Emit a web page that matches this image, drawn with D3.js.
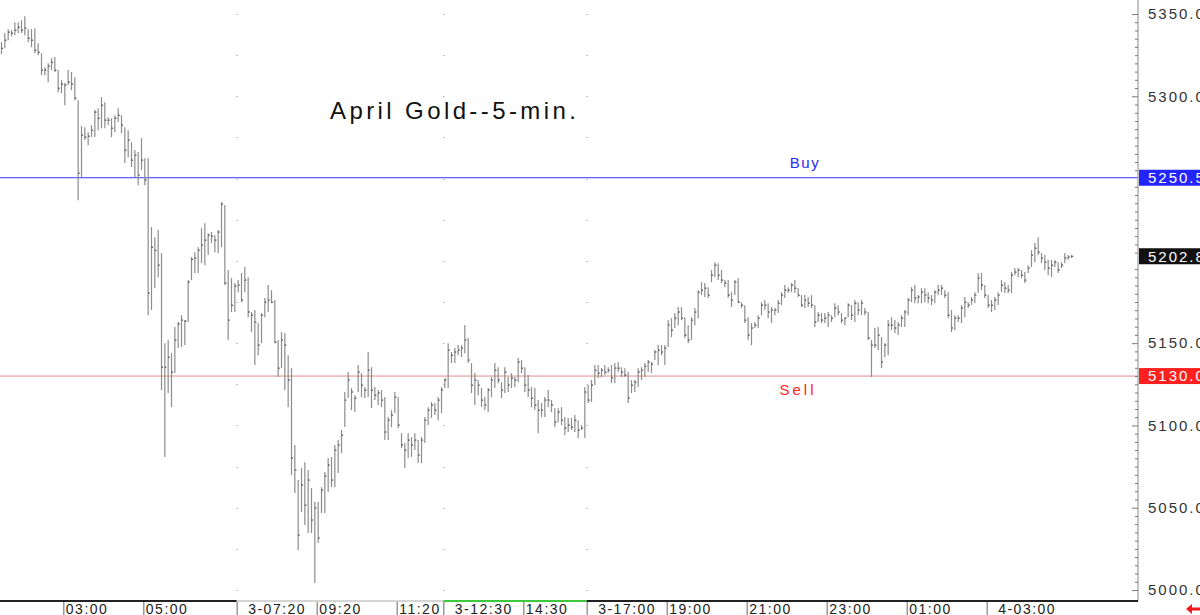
<!DOCTYPE html>
<html><head><meta charset="utf-8">
<script src="https://cdn.jsdelivr.net/npm/d3@7"></script>
<style>html,body{margin:0;padding:0;background:#fff;overflow:hidden}</style>
</head><body>
<svg id="c" width="1200" height="615"></svg>
<script>
// ---- DATA (April Gold, 5-minute bars) ----
const high = [
5332.9,5338.4,5340.8,5340.2,5345.0,5345.0,5346.2,5348.7,5340.8,5340.8,
5341.4,5332.3,5326.2,5317.7,5320.1,5323.2,5323.8,5315.9,5309.8,5308.0,
5315.9,5314.7,5311.6,5297.6,5281.9,5281.2,5278.2,5282.5,5291.6,5292.8,
5299.5,5296.4,5287.3,5286.7,5288.5,5292.8,5288.5,5281.2,5279.4,5272.1,
5267.3,5266.1,5274.6,5262.4,5262.4,5220.5,5214.4,5218.7,5204.7,5150.0,
5151.9,5144.0,5159.8,5162.8,5167.0,5164.0,5188.3,5202.3,5205.3,5208.3,
5219.9,5222.9,5216.8,5217.5,5215.6,5218.7,5235.7,5233.9,5194.4,5189.5,
5186.5,5188.3,5192.6,5196.2,5190.1,5168.9,5170.1,5162.2,5168.3,5177.4,
5185.3,5182.2,5176.2,5151.9,5156.7,5156.1,5142.7,5134.8,5088.1,5066.8,
5074.1,5077.7,5072.9,5061.9,5053.4,5053.4,5062.5,5071.7,5080.2,5080.8,
5088.1,5091.1,5097.2,5120.3,5132.4,5122.7,5118.4,5136.7,5131.8,5123.3,
5144.6,5135.4,5123.3,5121.5,5121.5,5117.2,5105.1,5109.3,5120.3,5117.2,
5095.3,5089.3,5095.3,5092.9,5095.3,5091.1,5092.9,5105.1,5111.1,5114.2,
5113.6,5117.2,5123.3,5128.8,5150.0,5144.6,5147.0,5148.8,5148.8,5161.0,
5153.1,5137.9,5131.8,5127.6,5122.7,5117.2,5122.7,5129.4,5137.9,5135.4,
5126.3,5135.4,5129.4,5131.8,5129.4,5140.9,5139.7,5135.4,5130.6,5123.3,
5122.7,5115.4,5113.6,5117.2,5121.5,5115.4,5110.5,5110.5,5111.1,5105.1,
5104.5,5104.5,5106.3,5103.2,5100.2,5123.3,5124.5,5127.6,5136.7,5136.7,
5134.8,5136.7,5135.4,5136.7,5137.9,5138.5,5135.4,5134.8,5132.4,5127.6,
5127.6,5134.8,5135.4,5137.9,5139.7,5138.5,5145.8,5148.8,5148.8,5148.8,
5164.0,5165.2,5168.3,5171.9,5171.9,5165.8,5160.9,5165.8,5171.3,5182.2,
5187.1,5186.5,5184.0,5194.4,5199.2,5198.6,5194.4,5188.3,5188.3,5181.0,
5188.3,5189.5,5174.9,5173.1,5165.8,5162.2,5162.8,5167.0,5174.9,5176.2,
5174.3,5171.9,5171.3,5176.2,5181.0,5185.3,5184.0,5186.5,5188.3,5183.4,
5179.2,5179.2,5178.0,5179.2,5173.1,5168.9,5168.3,5168.3,5168.9,5167.0,
5174.3,5173.1,5168.3,5165.8,5174.3,5173.1,5176.2,5174.9,5176.2,5171.3,
5168.9,5151.9,5159.2,5159.8,5153.7,5150.0,5164.0,5165.8,5164.0,5162.8,
5167.0,5170.1,5177.4,5184.0,5185.3,5179.2,5183.4,5183.4,5181.0,5179.2,
5182.2,5185.3,5185.3,5182.2,5181.0,5170.1,5167.0,5167.0,5173.1,5178.0,
5174.9,5178.0,5181.0,5192.6,5192.6,5185.3,5179.2,5176.2,5178.0,5181.0,
5188.3,5187.1,5185.3,5193.2,5195.6,5195.6,5194.4,5193.2,5197.4,5206.5,
5210.8,5214.4,5204.7,5203.5,5200.5,5200.5,5200.5,5199.2,5199.2,5204.7,5203.5,5203.5];
const low = [
5325.6,5329.2,5334.1,5336.5,5337.1,5338.4,5338.4,5337.1,5332.9,5329.8,
5326.2,5325.0,5312.8,5312.8,5308.6,5315.9,5314.7,5302.5,5301.9,5294.6,
5306.8,5303.7,5297.6,5236.9,5250.9,5273.4,5270.3,5275.2,5275.2,5279.4,
5280.6,5280.6,5282.5,5275.2,5278.2,5284.3,5277.6,5259.4,5263.0,5257.0,
5250.9,5246.0,5255.1,5246.0,5167.0,5170.1,5183.4,5190.1,5121.5,5080.8,
5119.7,5111.1,5131.8,5147.0,5147.6,5148.8,5162.8,5188.3,5192.6,5192.6,
5198.6,5197.4,5203.5,5210.8,5205.3,5204.7,5208.3,5185.3,5151.9,5168.9,
5168.9,5181.0,5174.9,5181.0,5165.8,5156.7,5136.7,5142.7,5150.0,5165.8,
5168.9,5174.3,5150.0,5129.4,5134.8,5121.5,5111.1,5069.8,5058.9,5024.3,
5047.4,5039.5,5034.6,5034.6,5004.2,5028.5,5046.8,5046.8,5059.5,5062.5,
5062.5,5071.1,5083.2,5099.0,5116.6,5109.3,5108.1,5120.3,5117.2,5116.6,
5117.2,5110.5,5115.4,5112.4,5111.1,5091.1,5091.1,5099.0,5107.5,5098.4,
5086.2,5074.1,5080.2,5080.8,5085.0,5077.1,5077.1,5089.3,5100.2,5104.5,
5106.3,5103.2,5107.5,5122.7,5122.7,5137.9,5137.9,5142.7,5141.5,5143.9,
5137.9,5119.7,5112.4,5118.4,5111.1,5109.3,5108.1,5117.2,5122.7,5125.7,
5116.6,5119.7,5120.3,5122.7,5123.3,5126.3,5131.8,5120.3,5117.2,5111.1,
5109.3,5095.3,5105.1,5105.1,5111.1,5108.1,5099.0,5102.0,5100.2,5094.1,
5096.0,5097.2,5096.0,5092.3,5097.2,5092.3,5113.6,5114.2,5124.5,5128.8,
5129.4,5130.6,5131.8,5125.7,5125.7,5132.4,5129.4,5129.4,5113.6,5119.7,
5120.3,5123.3,5127.6,5129.4,5132.4,5131.8,5139.7,5136.7,5142.7,5136.7,
5147.6,5153.7,5159.2,5160.9,5164.0,5153.1,5150.0,5151.9,5160.9,5165.2,
5179.2,5178.0,5177.4,5187.1,5190.1,5188.3,5186.5,5184.0,5177.4,5171.9,
5179.2,5174.3,5171.3,5162.2,5151.9,5148.8,5159.2,5159.2,5167.0,5170.1,
5165.2,5162.2,5167.0,5168.3,5173.1,5177.4,5180.4,5181.0,5180.4,5178.0,
5171.9,5171.3,5171.9,5171.3,5159.8,5162.8,5162.2,5162.2,5159.8,5162.8,
5165.8,5167.0,5162.2,5160.9,5165.8,5164.0,5162.8,5167.0,5167.0,5167.0,
5151.9,5129.4,5147.0,5145.8,5134.8,5141.5,5142.7,5157.9,5156.1,5154.9,
5159.8,5159.8,5167.0,5174.9,5174.3,5174.3,5174.3,5174.9,5174.3,5173.1,
5174.3,5179.2,5179.2,5177.4,5165.2,5156.7,5157.9,5162.8,5162.2,5165.8,
5171.3,5173.1,5174.3,5180.4,5182.2,5177.4,5171.3,5168.9,5170.1,5173.1,
5181.0,5180.4,5180.4,5180.4,5191.3,5190.1,5189.5,5186.5,5192.6,5196.2,
5199.2,5203.5,5198.6,5194.4,5191.3,5190.1,5196.2,5192.6,5195.6,5198.6,5200.5,5201.7];
const close = [
5329.2,5334.1,5339.0,5338.4,5340.2,5342.0,5340.2,5341.4,5335.3,5334.1,
5328.0,5326.8,5315.9,5315.9,5318.3,5320.7,5315.9,5304.9,5307.4,5306.8,
5308.6,5307.4,5298.9,5253.3,5276.4,5275.2,5275.8,5279.4,5290.4,5286.7,
5294.6,5285.5,5285.5,5280.6,5286.7,5288.5,5282.5,5267.3,5273.4,5261.2,
5264.2,5252.1,5261.2,5249.1,5180.4,5208.3,5206.5,5197.4,5135.4,5135.4,
5141.5,5132.4,5151.9,5161.6,5164.0,5163.4,5187.1,5201.0,5201.7,5206.5,
5209.6,5212.6,5215.6,5215.0,5212.6,5217.5,5234.5,5186.5,5164.0,5173.1,
5184.7,5185.3,5176.2,5188.3,5168.9,5167.0,5162.8,5148.8,5167.0,5174.9,
5176.2,5174.9,5150.6,5134.8,5151.9,5148.8,5127.6,5080.2,5072.9,5033.4,
5063.8,5051.6,5066.8,5042.5,5049.8,5031.6,5060.7,5069.2,5075.9,5066.8,
5085.0,5088.1,5094.1,5115.4,5127.6,5120.3,5116.6,5132.4,5124.5,5121.5,
5133.6,5121.5,5118.4,5119.7,5115.4,5096.0,5103.2,5106.3,5117.2,5100.2,
5088.1,5085.0,5091.1,5088.1,5091.1,5082.0,5091.1,5103.2,5109.3,5112.4,
5109.3,5115.4,5121.5,5127.6,5145.8,5142.7,5144.6,5145.8,5147.0,5151.9,
5139.7,5124.5,5127.6,5124.5,5115.4,5112.4,5121.5,5127.6,5133.6,5127.6,
5121.5,5132.4,5124.5,5128.8,5127.6,5138.5,5134.8,5124.5,5121.5,5116.6,
5112.4,5109.3,5109.3,5115.4,5115.4,5112.4,5102.0,5108.1,5103.2,5098.4,
5100.2,5099.0,5103.2,5097.2,5098.4,5120.3,5115.4,5124.5,5133.6,5131.8,
5133.6,5132.4,5133.6,5128.8,5134.8,5134.8,5132.4,5130.6,5116.6,5124.5,
5126.3,5132.4,5133.6,5136.0,5138.5,5137.3,5144.6,5145.8,5144.6,5147.0,
5161.0,5157.9,5165.2,5168.9,5165.2,5154.9,5151.9,5164.0,5168.9,5181.0,
5182.2,5183.4,5179.2,5191.3,5197.4,5191.3,5188.3,5186.5,5179.2,5176.2,
5187.1,5174.9,5173.1,5164.0,5154.9,5159.2,5161.0,5165.2,5173.1,5173.1,
5168.9,5170.1,5170.1,5174.3,5179.2,5182.2,5182.2,5185.3,5183.4,5179.2,
5173.1,5176.2,5174.3,5173.1,5162.8,5167.0,5164.0,5165.2,5167.0,5165.2,
5171.3,5168.9,5164.0,5165.2,5173.1,5167.0,5174.3,5170.1,5174.3,5168.9,
5153.1,5148.8,5148.8,5154.9,5138.5,5148.8,5161.0,5161.0,5159.2,5161.0,
5165.2,5168.9,5176.2,5182.2,5177.4,5178.0,5181.0,5179.2,5177.4,5176.2,
5181.0,5182.2,5183.4,5179.2,5167.0,5159.2,5165.2,5165.2,5171.3,5174.9,
5173.1,5176.2,5179.2,5189.5,5185.3,5179.2,5173.1,5173.1,5176.2,5179.2,
5185.3,5183.4,5182.2,5191.3,5193.2,5194.4,5191.3,5188.3,5195.6,5203.5,
5207.7,5205.3,5201.7,5199.2,5195.6,5197.4,5199.2,5194.4,5197.4,5201.7,5202.3,5202.8];

const timeTickBars = [19,43,71,95,119,133,157,176,200,224,248,272,296];
const timeTickLabels = ["03:00","05:00","3-07:20","09:20","11:20","3-12:30","14:30","3-17:00","19:00","21:00","23:00","01:00","4-03:00"];
const sessionBars = [71,133,176];
const priceTicks = [5000,5050,5100,5150,5200,5250,5300,5350];
const buyLevel = 5250.5, sellLevel = 5130.0, lastPrice = 5202.8;
const title = "April Gold--5-min.";

// ---- CHART ----
const svg = d3.select("#c");
const W = 1200, H = 615, axisX = 1138, axisY = 601;
const font = "'Liberation Sans', Arial, sans-serif";
svg.append("rect").attr("width",W).attr("height",H).attr("fill","#fff");

const n = high.length;
const x = d3.scaleLinear().domain([0, n-1]).range([1.5, 1071.5]);
const xSep = d3.scaleLinear().domain([0, n-1]).range([0, 1070]);
const y = d3.scaleLinear().domain([5000, 5350]).range([590, 14]);

// session dotted grid
const gridLevels = d3.range(5000, 5351, 25);
sessionBars.forEach(b => {
  svg.append("g").selectAll("rect").data(gridLevels).join("rect")
    .attr("x", xSep(b)).attr("y", d => Math.round(y(d))).attr("width",1).attr("height",1)
    .attr("fill","#8a8a8a");
});

// title
svg.append("text").attr("x",330).attr("y",119).text(title)
  .attr("font-family",font).attr("font-size",24).attr("letter-spacing","3.4px").attr("fill","#111");

// levels
svg.append("line").attr("x1",0).attr("x2",axisX).attr("y1",y(buyLevel)).attr("y2",y(buyLevel))
  .attr("stroke","#3434ff").attr("stroke-width",1);
svg.append("line").attr("x1",0).attr("x2",axisX).attr("y1",y(sellLevel)).attr("y2",y(sellLevel))
  .attr("stroke","#e58a8a").attr("stroke-width",1);
svg.append("text").attr("x",805).attr("y",y(buyLevel)-10).attr("text-anchor","middle").text("Buy")
  .attr("font-family",font).attr("font-size",15).attr("letter-spacing","1.5px").attr("fill","#2a2aff");
svg.append("text").attr("x",798).attr("y",y(sellLevel)+19).attr("text-anchor","middle").text("Sell")
  .attr("font-family",font).attr("font-size",15).attr("letter-spacing","3px").attr("fill","#ff2222");

// bars
const idx = d3.range(n);
const gb = svg.append("g");
gb.selectAll("line.hl").data(idx).join("line").attr("class","hl")
  .attr("x1", i => x(i)).attr("x2", i => x(i))
  .attr("y1", i => y(high[i])).attr("y2", i => y(low[i]))
  .attr("stroke","#8c8c8c").attr("stroke-width",1.2);
gb.selectAll("line.cl").data(idx).join("line").attr("class","cl")
  .attr("x1", i => x(i)).attr("x2", i => x(i)+1.6)
  .attr("y1", i => y(close[i])).attr("y2", i => y(close[i]))
  .attr("stroke","#333").attr("stroke-width",1);

// right axis
const minor = d3.range(5000, 5351, 5).filter(v => v % 50 !== 0);
const gMinor = svg.append("g").attr("transform",`translate(${axisX},0)`)
  .call(d3.axisRight(y).tickValues(minor).tickSize(-3).tickFormat(""));
gMinor.select(".domain").remove();
gMinor.selectAll("line").attr("stroke","#777");
const gMajor = svg.append("g").attr("transform",`translate(${axisX},0)`)
  .call(d3.axisRight(y).tickValues(priceTicks.filter(v => v!==5200 && v!==5250)).tickSize(-6).tickPadding(10).tickFormat(d3.format(".1f")));
gMajor.select(".domain").remove();
gMajor.selectAll("line").attr("stroke","#777");
gMajor.selectAll("text").attr("font-family",font).attr("font-size",15).attr("letter-spacing","2px").attr("fill","#333");
svg.append("line").attr("x1",axisX).attr("x2",axisX).attr("y1",0).attr("y2",axisY)
  .attr("stroke","#888").attr("stroke-width",1);

// price label boxes
[[buyLevel,"#2424ff"],[lastPrice,"#111"],[sellLevel,"#ff2020"]].forEach(([v,c]) => {
  svg.append("rect").attr("x",axisX+1).attr("y",y(v)-8).attr("width",W-axisX).attr("height",16).attr("fill",c);
  svg.append("text").attr("x",axisX+10).attr("y",y(v)).attr("dy","0.36em").text(d3.format(".1f")(v))
    .attr("font-family",font).attr("font-size",15).attr("letter-spacing","2px").attr("fill","#fff");
});

// bottom axis line segments
const segs = [[0, xSep(71), "#222", 2],[xSep(71), xSep(133), "#aaa", 1],[xSep(133), xSep(176), "#3cc83c", 2],[xSep(176), axisX, "#222", 2]];
segs.forEach(([a,b,c,w]) => svg.append("line").attr("x1",a).attr("x2",b).attr("y1",axisY).attr("y2",axisY)
  .attr("stroke",c).attr("stroke-width",w));

const gx = svg.append("g").attr("transform",`translate(0,${axisY})`)
  .call(d3.axisBottom(xSep).tickValues(timeTickBars).tickSize(14).tickPadding(0)
    .tickFormat((d,i) => timeTickLabels[i]));
gx.select(".domain").remove();
gx.selectAll("line").attr("stroke","#666").attr("y1",1);
gx.selectAll("text").attr("text-anchor","start")
  .attr("x",(d,i) => timeTickLabels[i].includes("-") ? 11 : 2)
  .attr("y",12.5).attr("dy",0)
  .attr("font-family",font).attr("font-size",14).attr("letter-spacing","1.5px").attr("fill","#222");

// red arrow marker
svg.append("path").attr("d","M1186,609 L1192,604 L1192,607.5 L1200,607.5 L1200,610.5 L1192,610.5 L1192,614 Z")
  .attr("fill","#ee1c1c");
</script>
</body></html>
